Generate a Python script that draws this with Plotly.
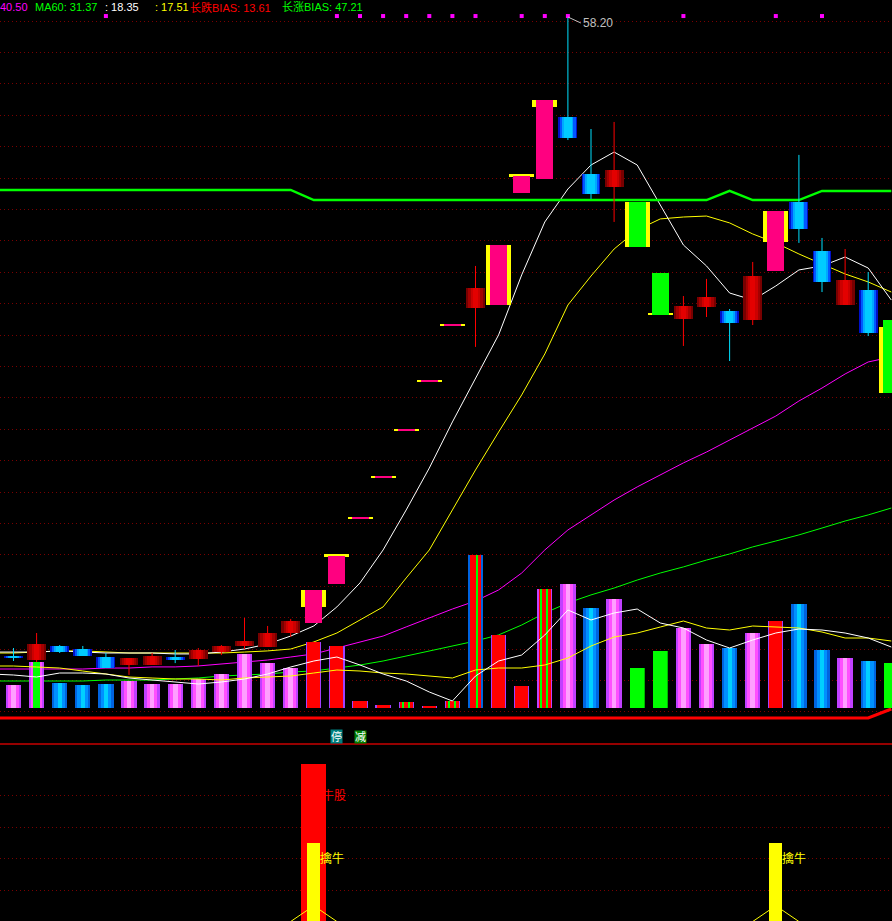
import plotly.graph_objects as go

# ------------------------------------------------------------------ data
bar_idx = list(range(39))          # visible trading days
line_idx = list(range(-1, 39))     # indicator lines start one day earlier (off the left edge)

k_open = [18.26, 18.01, 18.89, 18.70, 18.20, 17.70, 17.70, 18.20, 18.08, 18.51,
          18.89, 18.82, 19.70, 20.33, 22.76, 26.83, 29.39, 32.33, 35.39, 38.89,
          40.01, 40.20, 47.20, 48.08, 51.95, 48.39, 47.58, 46.64, 42.20, 39.33,
          40.08, 39.83, 39.26, 42.33, 46.64, 43.58, 40.20, 41.14, 39.26]
k_close = [18.14, 19.01, 18.51, 18.26, 17.51, 18.14, 18.26, 18.01, 18.64, 18.89,
           19.20, 19.70, 20.45, 22.39, 24.51, 26.83, 29.39, 32.33, 35.39, 38.89,
           41.26, 43.95, 48.26, 53.01, 50.64, 47.14, 48.64, 43.83, 39.58, 40.14,
           40.70, 39.08, 42.01, 46.08, 44.95, 41.64, 41.76, 38.45, 34.70]
k_high = [18.76, 19.70, 18.95, 18.89, 18.45, 18.14, 18.45, 18.64, 18.76, 18.95,
          20.64, 20.14, 20.58, 22.39, 24.51, 26.83, 29.39, 32.33, 35.39, 38.89,
          42.64, 43.95, 48.26, 53.01, 58.20, 51.20, 51.64, 46.64, 42.20, 40.76,
          41.83, 39.95, 42.89, 46.08, 49.58, 44.39, 43.70, 42.26, 39.26]
k_low = [17.95, 17.89, 18.45, 18.26, 17.51, 17.08, 17.70, 17.82, 17.64, 18.32,
         18.70, 18.82, 19.45, 20.33, 22.76, 26.83, 29.39, 32.33, 35.39, 38.89,
         37.58, 40.20, 47.20, 48.08, 50.51, 46.83, 45.39, 43.83, 39.58, 37.64,
         39.45, 36.70, 38.95, 42.33, 44.08, 41.01, 40.20, 38.26, 34.70]
k_kind = ['dn', 'up', 'dn', 'dn', 'dn', 'up', 'up', 'dn', 'up', 'up',
          'up', 'up', 'up', 'hot', 'hot', 'hot', 'hot', 'hot', 'hot', 'hot',
          'up', 'hot', 'hot', 'hot', 'dn', 'dn', 'up', 'cold', 'cold', 'up',
          'up', 'dn', 'up', 'hot', 'dn', 'dn', 'up', 'dn', 'cold']
band_hi = [None, None, None, None, None, None, None, None, None, None,
           None, None, None, 22.39, 24.51, 26.83, 29.39, 32.33, 35.39, 38.89,
           None, 43.95, 48.26, 53.01, None, None, None, 46.64, 39.58, None,
           None, None, None, 46.08, None, None, None, None, 38.83]
band_lo = [None, None, None, None, None, None, None, None, None, None,
           None, None, None, 21.33, 24.51, 26.83, 29.39, 32.33, 35.39, 38.89,
           None, 40.20, 48.26, 52.58, None, None, None, 43.83, 39.58, None,
           None, None, None, 44.14, None, None, None, None, 34.70]

# indicator lines (first value = day before the first visible candle)
ma5 = [18.51, 18.51, 18.51, 18.58, 18.51, 18.45, 18.45, 18.45, 18.39, 18.39, 18.51,
       18.70, 19.01, 19.51, 20.14, 21.33, 22.83, 24.89, 27.39, 30.01, 32.89,
       35.64, 38.33, 42.08, 45.39, 47.45, 48.95, 49.76, 48.95, 46.45, 43.95,
       42.64, 40.95, 40.51, 41.39, 42.39, 42.64, 43.20, 42.51, 40.51]
ma10 = [18.45, 18.45, 18.51, 18.58, 18.58, 18.51, 18.45, 18.45, 18.45, 18.45, 18.45,
        18.51, 18.58, 18.70, 19.14, 19.70, 20.51, 21.33, 23.14, 24.89, 27.39,
        29.89, 32.26, 34.58, 37.14, 40.20, 42.01, 43.70, 44.89, 45.58, 45.70,
        45.76, 45.33, 44.64, 44.08, 43.39, 42.76, 42.14, 41.64, 41.01]
ma30 = [17.45, 17.45, 17.45, 17.45, 17.45, 17.51, 17.51, 17.58, 17.58, 17.64, 17.76,
        17.89, 18.01, 18.20, 18.39, 18.76, 19.14, 19.51, 20.08, 20.64, 21.20,
        21.70, 22.39, 23.45, 24.89, 26.14, 27.08, 28.01, 28.83, 29.58, 30.33,
        31.01, 31.76, 32.51, 33.26, 34.20, 35.01, 35.89, 36.64, 36.95]
ma60 = [16.70, 16.70, 16.70, 16.70, 16.70, 16.76, 16.76, 16.76, 16.83, 16.89, 17.01,
        17.08, 17.14, 17.26, 17.33, 17.51, 17.70, 17.95, 18.26, 18.58, 18.89,
        19.20, 19.58, 20.20, 20.95, 21.58, 22.08, 22.51, 23.01, 23.45, 23.83,
        24.26, 24.64, 25.08, 25.45, 25.83, 26.26, 26.70, 27.08, 27.51]
bias_up_line = [47.39] * 14 + [46.76] * 18 + [47.33] + [46.76] * 3 + [47.33] * 4
base_line = [14.39] * 39 + [14.95]

signal_idx = [4, 14, 15, 16, 17, 18, 19, 20, 22, 23, 24, 29, 33, 35]
signal_level = 58.26

volume = [5.75, 11.5, 6.3, 5.75, 6.1, 6.8, 6.1, 6.0, 7.25, 8.6,
          13.6, 11.3, 10.0, 16.5, 15.5, 1.75, 0.75, 1.5, 0.5, 1.75,
          38.25, 18.25, 5.5, 29.75, 31.0, 25.0, 27.25, 10.0, 14.25, 20.0,
          16.0, 15.0, 18.75, 21.75, 26.0, 14.5, 12.5, 11.75, 11.25]
vol_kind = ['pink', 'pg', 'blue', 'blue', 'blue', 'pink', 'pink', 'pink', 'pink', 'pink',
            'pink', 'pink', 'pink', 'red', 'red', 'red', 'red', 'rg', 'red', 'rg',
            'brg', 'red', 'red', 'mrg', 'pink', 'blue', 'pink', 'green', 'green', 'pink',
            'pink', 'blue', 'pink', 'red', 'blue', 'blue', 'pink', 'blue', 'green']
vol_ma5 = [8.5, 8.25, 7.75, 8.75, 8.75, 8.5, 7.5, 7.0, 6.5, 6.0, 6.5,
           7.25, 8.5, 10.25, 11.75, 12.75, 10.75, 8.5, 6.75, 4.0, 1.75,
           8.0, 11.75, 13.25, 18.25, 24.5, 22.0, 23.75, 24.75, 21.25, 20.0,
           17.0, 15.0, 17.0, 18.75, 19.75, 19.5, 18.75, 17.5, 15.25]
vol_ma10 = [10.5, 10.5, 10.25, 10.0, 9.25, 8.5, 7.75, 7.5, 7.25, 7.25, 7.0,
            7.5, 7.75, 8.0, 8.75, 9.5, 9.25, 8.75, 8.5, 8.0, 7.5,
            9.5, 10.0, 10.0, 10.75, 12.5, 15.5, 17.75, 18.75, 20.25, 21.75,
            20.0, 19.5, 20.5, 20.25, 20.0, 19.0, 17.5, 17.5, 16.75]

bull_bar = [None] * 13 + [100] + [None] * 25
catch_bar = [None] * 13 + [50] + [None] * 19 + [50] + [None] * 5
catch_line = [0] * 13 + [10] + [0] * 19 + [10] + [0] * 5
bull_labels = [(13, 80, "牛股")]
catch_labels = [(13, 40, "擒牛"), (33, 40, "擒牛")]
flag_labels = [(14, "停", "#008080"), (15, "减", "#008000")]

legend_items = [("40.50", "#ff00ff"), ("MA60: 31.37", "#00ff00"), (": 18.35", "#ffffff"),
                (": 17.51", "#ffff00"), ("长跌BIAS: 13.61", "#ff0000"), ("长涨BIAS: 47.21", "#00ff00")]
legend_x_px = [-2, 33, 103, 153, 188, 280]

# ------------------------------------------------------------------ styles
W, H = 892, 921
FONT = "Liberation Sans, Noto Sans CJK SC, sans-serif"
UP_LAYERS = [(0.82, '#780000'), (0.62, '#a40000'), (0.42, '#cc0000'), (0.22, '#e40000')]
DN_LAYERS = [(0.82, '#0010c8'), (0.66, '#0058ff'), (0.48, '#00a8ff'), (0.32, '#00ccff')]
SPECIAL = {'hot': '#ff0080', 'cold': '#00ff00'}
SPECIAL_W = 0.736
BAND_W = 1.082
MIN_H = 0.1
VOL_LAYERS = {
    'pink': [(0.66, '#c040ff', 0), (0.46, '#ff50ff', 0), (0.2, '#ffa0ff', 0)],
    'blue': [(0.66, '#0064e0', 0), (0.46, '#0090ff', 0), (0.18, '#00d0ff', 0)],
    'red': [(0.66, '#a040ff', 0), (0.57, '#ff0000', 0)],
    'green': [(0.66, '#00b400', 0), (0.6, '#00ff00', 0)],
    'pg': [(0.66, '#c040ff', 0), (0.46, '#ff50ff', 0), (0.28, '#00ff00', 0)],
    'rg': [(0.66, '#a040ff', 0), (0.57, '#ff0000', 0), (0.06, '#00ff00', -0.13), (0.06, '#00ff00', 0.13)],
    'brg': [(0.66, '#0064e0', 0), (0.44, '#ff0000', 0), (0.06, '#00ff00', 0.06)],
    'mrg': [(0.66, '#c040ff', 0), (0.54, '#ff0000', 0), (0.06, '#00ff00', -0.15), (0.06, '#00ff00', 0.12)],
}

fig = go.Figure()

# ---- price moving averages (under candles)
for ys, col in [(ma60, '#00ff00'), (ma30, '#ff00ff'), (ma10, '#ffff00'), (ma5, '#ffffff')]:
    fig.add_trace(go.Scatter(x=line_idx, y=ys, mode='lines', line=dict(color=col, width=1),
                             yaxis='y', hoverinfo='skip'))
fig.add_trace(go.Scatter(x=line_idx, y=bias_up_line, mode='lines', line=dict(color='#00ff00', width=2.5),
                         yaxis='y', hoverinfo='skip'))
fig.add_trace(go.Scatter(x=line_idx, y=base_line, mode='lines', line=dict(color='#ff0000', width=3),
                         yaxis='y', hoverinfo='skip'))

# ---- candles (overlay axis y4 so they sit above the MA lines)
bi = [i for i in bar_idx if band_hi[i] is not None]
fig.add_trace(go.Bar(x=bi, y=[max(band_hi[i] - band_lo[i], MIN_H) for i in bi],
                     base=[band_lo[i] for i in bi], width=BAND_W, marker_color='#ffff00',
                     marker_line_width=0, yaxis='y4', hoverinfo='skip'))
for kind, layers in [('up', UP_LAYERS), ('dn', DN_LAYERS)]:
    ii = [i for i in bar_idx if k_kind[i] == kind]
    for w, col in layers:
        fig.add_trace(go.Bar(x=ii, y=[max(abs(k_close[i] - k_open[i]), MIN_H) for i in ii],
                             base=[min(k_open[i], k_close[i]) for i in ii], width=w,
                             marker_color=col, marker_line_width=0, yaxis='y4', hoverinfo='skip'))
for kind, col in SPECIAL.items():
    ii = [i for i in bar_idx if k_kind[i] == kind]
    fig.add_trace(go.Bar(x=ii, y=[max(abs(k_close[i] - k_open[i]), MIN_H) for i in ii],
                         base=[min(k_open[i], k_close[i]) for i in ii], width=SPECIAL_W,
                         marker_color=col, marker_line_width=0, yaxis='y4', hoverinfo='skip'))
for kind, col in [('up', '#ff0000'), ('dn', '#00e0ff')]:
    xs, ys = [], []
    for i in bar_idx:
        if k_kind[i] != kind:
            continue
        top, bot = max(k_open[i], k_close[i]), min(k_open[i], k_close[i])
        if k_high[i] > top:
            xs += [i, i, None]; ys += [k_high[i], top, None]
        if k_low[i] < bot:
            xs += [i, i, None]; ys += [bot, k_low[i], None]
    fig.add_trace(go.Scatter(x=xs, y=ys, mode='lines', line=dict(color=col, width=1),
                             yaxis='y4', hoverinfo='skip'))
fig.add_trace(go.Scatter(x=signal_idx, y=[signal_level] * len(signal_idx), mode='markers',
                         marker=dict(symbol='square', size=4, color='#ff00ff', line_width=0),
                         yaxis='y4', hoverinfo='skip'))

# ---- volume
for kind, layers in VOL_LAYERS.items():
    ii = [i for i in bar_idx if vol_kind[i] == kind]
    if not ii:
        continue
    for w, col, off in layers:
        fig.add_trace(go.Bar(x=[i + off for i in ii], y=[volume[i] for i in ii], width=w,
                             marker_color=col, marker_line_width=0, yaxis='y2', hoverinfo='skip'))
for ys, col in [(vol_ma10, '#ffff00'), (vol_ma5, '#ffffff')]:
    fig.add_trace(go.Scatter(x=line_idx, y=ys, mode='lines', line=dict(color=col, width=1),
                             yaxis='y2', hoverinfo='skip'))

# ---- lower indicator panel
fig.add_trace(go.Bar(x=bar_idx, y=bull_bar, width=1.082, marker_color='#ff0000',
                     marker_line_width=0, yaxis='y3', hoverinfo='skip'))
fig.add_trace(go.Bar(x=bar_idx, y=catch_bar, width=0.56, marker_color='#ffff00',
                     marker_line_width=0, yaxis='y3', hoverinfo='skip'))
fig.add_trace(go.Scatter(x=bar_idx, y=catch_line, mode='lines', line=dict(color='#ffff00', width=1),
                         yaxis='y3', hoverinfo='skip'))

# ------------------------------------------------------------------ layout
sep = 1 - 744 / H
vol_bottom = 1 - 708 / H
grid = dict(showgrid=True, gridcolor='#7a0000', griddash='1px,3px', gridwidth=1,
            showticklabels=False, ticks='', zeroline=False, showline=False)

annotations = []
for (txt, col), xp in zip(legend_items, legend_x_px):
    annotations.append(dict(x=xp / W, y=1 - 7 / H, xref='paper', yref='paper', text=txt,
                            showarrow=False, xanchor='left', yanchor='middle',
                            font=dict(family=FONT, size=11, color=col)))
annotations.append(dict(x=24, y=k_high[24], xref='x', yref='y', text='58.20', showarrow=True,
                        arrowhead=0, arrowwidth=1, arrowcolor='#c0c0c0', ax=13, ay=6,
                        xanchor='left', yanchor='middle',
                        font=dict(family=FONT, size=12, color='#c0c0c0')))
for i, txt, bg in flag_labels:
    annotations.append(dict(x=i, y=1 - 736.5 / H, xref='x', yref='paper', text=txt, showarrow=False,
                            bgcolor=bg, borderpad=0, xanchor='center', yanchor='middle',
                            font=dict(family=FONT, size=11, color='#ffffff')))
for i, v, txt in bull_labels:
    annotations.append(dict(x=i, y=v, xref='x', yref='y3', text=txt, showarrow=False, xanchor='left',
                            xshift=6, yanchor='middle', font=dict(family=FONT, size=12, color='#ff0000')))
for i, v, txt in catch_labels:
    annotations.append(dict(x=i, y=v, xref='x', yref='y3', text=txt, showarrow=False, xanchor='left',
                            xshift=4, yanchor='middle', font=dict(family=FONT, size=12, color='#ffff00')))

fig.update_layout(
    width=W, height=H, margin=dict(l=0, r=0, t=0, b=0),
    paper_bgcolor='#000000', plot_bgcolor='rgba(0,0,0,0)',
    showlegend=False, barmode='overlay', bargap=0, hovermode=False,
    xaxis=dict(range=[-0.5844, 38.03], visible=False, anchor='y3'),
    yaxis=dict(domain=[sep, 1], range=[12.7625, 59.2625], tick0=57.95, dtick=1.9625, **grid),
    yaxis4=dict(overlaying='y', range=[12.7625, 59.2625], visible=False),
    yaxis2=dict(domain=[vol_bottom, 1], range=[0, 177], anchor='x', visible=False),
    yaxis3=dict(domain=[0, sep], range=[0.317, 112.70], anchor='x', tickmode='array',
                tickvals=[20, 40, 60, 80], **grid),
    shapes=[dict(type='line', xref='paper', yref='paper', x0=0, x1=1, y0=sep, y1=sep,
                 line=dict(color='#c80000', width=1.5))],
    annotations=annotations,
)

fig.write_html("out.html", config={'displayModeBar': False},
               post_script="document.body.style.margin='0';document.body.style.background='#000';")
